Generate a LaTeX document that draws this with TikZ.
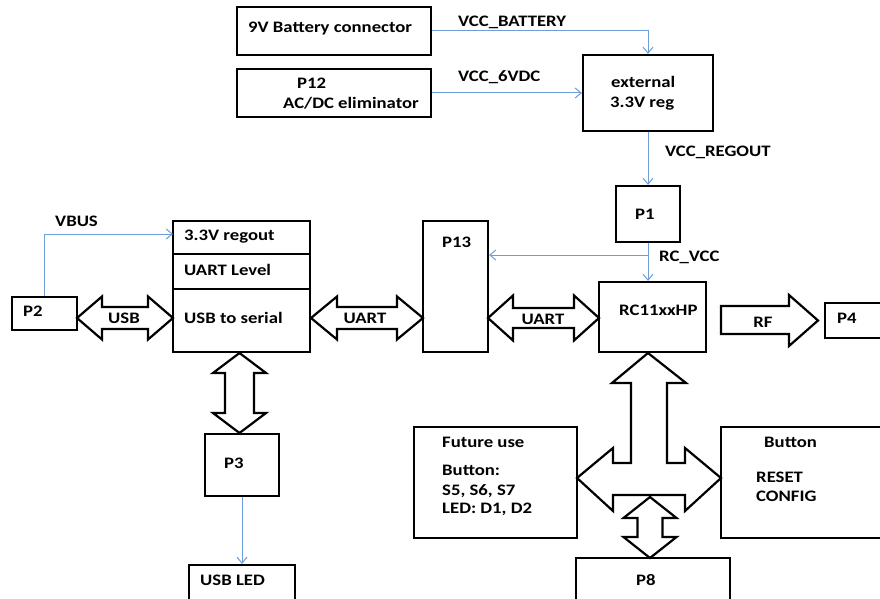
\documentclass[tikz,border=0pt]{standalone}
\usepackage{fontspec}
\setmainfont{Carlito}[FakeStretch=1.17]
\usetikzlibrary{arrows.meta,calc}
\definecolor{wireblue}{RGB}{110,158,215}
\newcommand\dblH[6]{\draw[fat] (#1,#3) -- ({#1+#4},{#3-#5}) -- ({#1+#4},{#3-#6}) -- ({#2-#4},{#3-#6}) -- ({#2-#4},{#3-#5}) -- (#2,#3) -- ({#2-#4},{#3+#5}) -- ({#2-#4},{#3+#6}) -- ({#1+#4},{#3+#6}) -- ({#1+#4},{#3+#5}) -- cycle;}
\newcommand\dblV[6]{\draw[fat] (#3,#1) -- ({#3+#5},{#1+#4}) -- ({#3+#6},{#1+#4}) -- ({#3+#6},{#2-#4}) -- ({#3+#5},{#2-#4}) -- (#3,#2) -- ({#3-#5},{#2-#4}) -- ({#3-#6},{#2-#4}) -- ({#3-#6},{#1+#4}) -- ({#3-#5},{#1+#4}) -- cycle;}
\begin{document}
\begin{tikzpicture}[x=1pt,y=-1pt,
  box/.style={draw, line width=2.2pt, inner sep=0pt, rectangle},
  lbl/.style={anchor=base west, inner sep=0pt, font=\fontsize{16}{19}\selectfont\bfseries},
  clbl/.style={anchor=base, inner sep=0pt, font=\fontsize{16}{19}\selectfont\bfseries},
  wire/.style={draw=wireblue, line width=1pt, -{Straight Barb[length=6pt,width=10pt]}},
  fat/.style={draw, line width=2.2pt, fill=white, line join=miter}]
\clip (0,0) rectangle (880,599);
\fill[white] (0,0) rectangle (880,599);

% boxes
\node[box, minimum width=194pt, minimum height=48pt] (bat) at (334,31) {};
\node[box, minimum width=194pt, minimum height=48pt] (p12) at (334,93) {};
\node[box, minimum width=130pt, minimum height=76pt] (ext) at (648,93) {};
\node[box, minimum width=64pt, minimum height=56pt] (p1) at (648,214) {};
\node[box, minimum width=65pt, minimum height=131pt] (p13) at (455.5,286.5) {};
\node[box, minimum width=107pt, minimum height=70pt] (rc) at (652.5,317) {};
\node[box, minimum width=70pt, minimum height=35pt] (p4) at (860,320.5) {};
\node[box, minimum width=65pt, minimum height=33pt] (p2) at (44.5,313.5) {};
\node[box, minimum width=137pt, minimum height=131pt] (usb) at (241.5,286.5) {};
\node[box, minimum width=74pt, minimum height=62pt] (p3) at (242,465) {};
\node[box, minimum width=106pt, minimum height=55pt] (usbled) at (242,592.5) {};
\node[box, minimum width=163pt, minimum height=111pt] (fut) at (495.5,482.5) {};
\node[box, minimum width=179pt, minimum height=111pt] (btn) at (810.5,482.5) {};
\node[box, minimum width=154pt, minimum height=62pt] (p8) at (653,589) {};
\draw[line width=2.2pt] (usb.west |- 0,254) -- (usb.east |- 0,254);
\draw[line width=2.2pt] (usb.west |- 0,289) -- (usb.east |- 0,289);

% wires
\draw[wire] (bat.east) -| (ext.north);
\draw[wire] (p12.east) -- (ext.west);
\draw[wire] (ext.south) -- (p1.north);
\draw[wire] (p1.south) -- (p1.south |- rc.north);
\coordinate (j) at (648,255);
\draw[wire] (j) -- (j -| p13.east);
\coordinate (vb) at (173,234);
\draw[wire] (p2.north) |- (vb);
\draw[wire] (p3.south) -- (p3.south |- usbled.north);

% fat arrows
\dblH{77}{173}{318}{25}{21.5}{11}
\dblH{311}{423}{318}{26}{21.5}{11}
\dblH{488}{599}{318}{25}{22.5}{10}
\dblV{353}{433}{239.5}{20}{26.5}{14.5}
\draw[fat] (721,306) -- (789,306) -- (789,295) -- (818,320.5) -- (789,346) -- (789,334) -- (721,334) -- cycle;
\draw[fat] (648,353) -- (686,383) -- (667,383) -- (667,463) -- (685,463) -- (685,448) -- (721,478) -- (685,511) -- (685,495) -- (613,495) -- (613,511) -- (577,478) -- (613,448) -- (613,463) -- (631,463) -- (631,383) -- (612,383) -- cycle;
\dblV{497}{558}{650}{21}{26.5}{12.5}

% labels
\node[lbl] (tbat) at (248,33) {9V Battery connector};
\node[lbl] (tvb) at (458,27) {VCC\_BATTERY};
\node[lbl] (tp12) at (297,89) {P12};
\node[lbl] (tac) at (283,109) {AC/DC eliminator};
\node[lbl] (t6v) at (458,82) {VCC\_6VDC};
\node[lbl] (text1) at (611,88) {external};
\node[lbl] (text2) at (610,107) {3.3V reg};
\node[lbl] (treg) at (665,157) {VCC\_REGOUT};
\node[lbl] (tp1) at (635,219) {P1};
\node[lbl] (trcv) at (659,261) {RC\_VCC};
\node[lbl] (tp13) at (442,247) {P13};
\node[lbl] (trc) at (619,315) {RC11xxHP};
\node[clbl] (trf) at (763,327) {RF};
\node[lbl] (tp4) at (837,323) {P4};
\node[clbl] (tuart2) at (543,324) {UART};
\node[lbl] (tvbus) at (55,226) {VBUS};
\node[lbl] (treg33) at (184,240) {3.3V regout};
\node[lbl] (tlev) at (184,275) {UART Level};
\node[lbl] (tser) at (184,323) {USB to serial};
\node[clbl] (tusb) at (124,323) {USB};
\node[clbl] (tuart1) at (365,323) {UART};
\node[lbl] (tp2) at (23,316) {P2};
\node[lbl] (tp3) at (224,468) {P3};
\node[lbl] (tled) at (200,585) {USB LED};
\node[lbl] (tfut) at (442,447) {Future use};
\node[lbl] (tbtn1) at (442,475) {Button:};
\node[lbl] (ts) at (442,495) {S5, S6, S7};
\node[lbl] (tld) at (442,513) {LED: D1, D2};
\node[lbl] (tbtn2) at (764,447) {Button};
\node[lbl] (trst) at (756,482) {RESET};
\node[lbl] (tcfg) at (756,501) {CONFIG};
\node[lbl] (tp8) at (636,585) {P8};
\end{tikzpicture}
\end{document}
